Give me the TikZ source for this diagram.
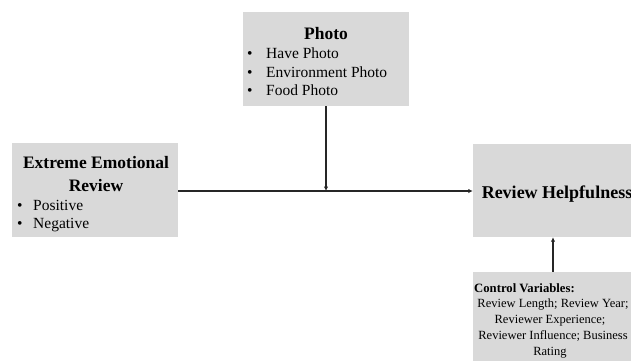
\documentclass[tikz,border=0pt]{standalone}
\usepackage{fontspec}
\setmainfont{Liberation Serif}
\usetikzlibrary{arrows.meta}
\tikzset{
  box/.style={rectangle, fill=boxgray, draw=none, inner sep=0pt},
  ttl/.style={font=\fontsize{17.5}{20}\selectfont\bfseries, inner sep=0pt, anchor=base},
  itm/.style={font=\fontsize{15.5}{18}\selectfont, inner sep=0pt, anchor=base west},
  ctl/.style={font=\fontsize{12.5}{15}\selectfont, inner sep=0pt, anchor=base},
  conn/.style={line width=1.3pt, draw=black!85, -{Latex[length=4.5pt,width=4.5pt]}}
}
\definecolor{boxgray}{HTML}{D9D9D9}
\begin{document}
\begin{tikzpicture}[x=1pt,y=-1pt]
\useasboundingbox (0,0) rectangle (631,360);
\clip (0,0) rectangle (631,360);
% boxes
\node[box, minimum width=166pt, minimum height=94pt] (photo) at (326,59) {};
\node[box, minimum width=166pt, minimum height=94pt] (eer) at (95,190) {};
\node[box, minimum width=170pt, minimum height=93pt] (rh) at (558,190.5) {};
\node[box, minimum width=170pt, minimum height=110pt] (ctrl) at (558,327) {};
% photo texts
\node[ttl] (pt) at (326,39) {Photo};
\node[itm] (pb1) at (247,58) {•};
\node[itm] (pi1) at (266,58) {Have Photo};
\node[itm] (pb2) at (247,77) {•};
\node[itm] (pi2) at (266,77) {Environment Photo};
\node[itm] (pb3) at (247,95) {•};
\node[itm] (pi3) at (266,95) {Food Photo};
% eer texts
\node[ttl] (et1) at (96,168) {Extreme Emotional};
\node[ttl] (et2) at (96,191) {Review};
\node[itm] (eb1) at (17,210) {•};
\node[itm] (ei1) at (33,210) {Positive};
\node[itm] (eb2) at (17,228) {•};
\node[itm] (ei2) at (33,228) {Negative};
% rh text
\node[ttl, font=\fontsize{18}{20}\selectfont\bfseries] (rt) at (557,198) {Review Helpfulness};
% control texts
\node[ctl, font=\fontsize{12.7}{15}\selectfont\bfseries, anchor=base west] (ct) at (474,292) {Control Variables:};
\node[ctl] (c1) at (553,307.5) {Review Length; Review Year;};
\node[ctl] (c2) at (550,323) {Reviewer Experience;};
\node[ctl] (c3) at (553,339) {Reviewer Influence; Business};
\node[ctl] (c4) at (550,355) {Rating};
% connectors
\coordinate (mid) at (326,191);
\draw[conn] (eer.east |- mid) -- (rh.west |- mid);
\draw[conn] (photo.south) -- (mid);
\coordinate (cx) at (553,0);
\draw[conn] (ctrl.north -| cx) -- (rh.south -| cx);
\end{tikzpicture}
\end{document}
